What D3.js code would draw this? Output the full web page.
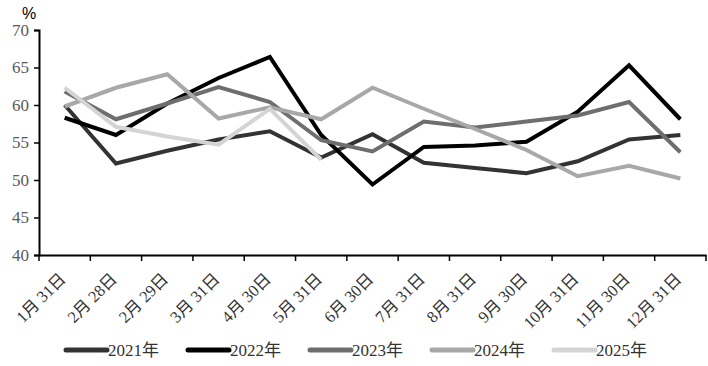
<!DOCTYPE html>
<html><head><meta charset="utf-8">
<script src="https://cdn.jsdelivr.net/npm/d3@7/dist/d3.min.js"></script>
<style>body{margin:0;background:#fff}svg{display:block}</style>
</head><body><svg id="c" width="708" height="366"></svg>
<script>
const categories = ["1月31日","2月28日","2月29日","3月31日","4月30日","5月31日","6月30日","7月31日","8月31日","9月30日","10月31日","11月30日","12月31日"];
const yTicks = [40,45,50,55,60,65,70];
const seriesNames = ["2021年","2022年","2023年","2024年","2025年"];
const s2021 = [60.0,52.2,53.9,55.4,56.5,53.0,56.1,52.3,51.6,50.9,52.5,55.4,56.0];
const s2022 = [58.3,56.0,60.2,63.6,66.4,56.0,49.4,54.4,54.6,55.1,59.1,65.3,58.1];
const s2023 = [61.8,58.1,60.2,62.4,60.4,55.3,53.8,57.8,57.0,57.8,58.6,60.4,53.7];
const s2024 = [59.8,62.3,64.1,58.2,59.7,58.1,62.3,59.5,56.8,54.0,50.5,51.9,50.2];
const s2025 = [62.3,57.1,55.8,54.7,59.5,52.7];
const seriesData = [s2021,s2022,s2023,s2024,s2025];
const colors = ["#333333","#000000","#6e6e6e","#a8a8a8","#d4d4d4"];

const svg = d3.select("#c");
const m = {l:39, t:30, r:706, b:255};
const x = d3.scaleBand().domain(categories).range([m.l, m.r]);
const y = d3.scaleLinear().domain([40,70]).range([m.b, m.t]);
const serif = "'Liberation Serif','Times New Roman','Noto Sans CJK SC',serif";

// y axis
const ya = svg.append("g").attr("transform",`translate(${m.l},0)`)
  .call(d3.axisLeft(y).tickValues(yTicks).tickSize(5).tickPadding(5).tickFormat(d3.format("d")));
ya.select(".domain").attr("stroke","#000").attr("stroke-width",2);
ya.selectAll(".tick line").attr("stroke","#000").attr("stroke-width",1.5);
ya.selectAll(".tick text").attr("font-family",serif).attr("font-size",17).attr("fill","#595959");

// x axis
const xa = svg.append("g").attr("transform",`translate(0,${m.b})`)
  .call(d3.axisBottom(x).tickSize(0).tickFormat(""));
xa.select(".domain").attr("stroke","#000").attr("stroke-width",2);
const bounds = d3.range(categories.length+1).map(i => m.l + i*x.step());
svg.append("g").selectAll("line").data(bounds).join("line")
  .attr("x1",d=>d).attr("x2",d=>d).attr("y1",m.b).attr("y2",m.b+6)
  .attr("stroke","#000").attr("stroke-width",1.5);
svg.append("g").selectAll("text").data(categories).join("text")
  .attr("transform",d=>`translate(${x(d)+x.bandwidth()/2+2},${m.b+25}) rotate(-45)`)
  .attr("text-anchor","end").attr("font-family",serif).attr("font-size",16.5).attr("fill","#333")
  .text(d=>d.replace("月","月 "));

svg.append("text").attr("x",22).attr("y",19).attr("font-family","'Liberation Sans',Arial,sans-serif")
  .attr("font-size",16).attr("fill","#000").text("%");

// lines
const line = d3.line().x((d,i)=>x(categories[i])+x.bandwidth()/2).y(d=>y(d));
svg.append("g").selectAll("path").data(seriesData).join("path")
  .attr("d",d=>line(d)).attr("fill","none")
  .attr("stroke",(d,i)=>colors[i]).attr("stroke-width",4).attr("stroke-linejoin","miter");

// legend
const lg = svg.append("g").selectAll("g").data(seriesNames).join("g")
  .attr("transform",(d,i)=>`translate(${66+i*122},350)`);
lg.append("line").attr("x1",0).attr("x2",41).attr("y1",0).attr("y2",0)
  .attr("stroke",(d,i)=>colors[i]).attr("stroke-width",5).attr("stroke-linecap","round");
lg.append("text").attr("x",42).attr("y",6).attr("font-family",serif).attr("font-size",17)
  .attr("fill","#333").text(d=>d);
</script></body></html>
